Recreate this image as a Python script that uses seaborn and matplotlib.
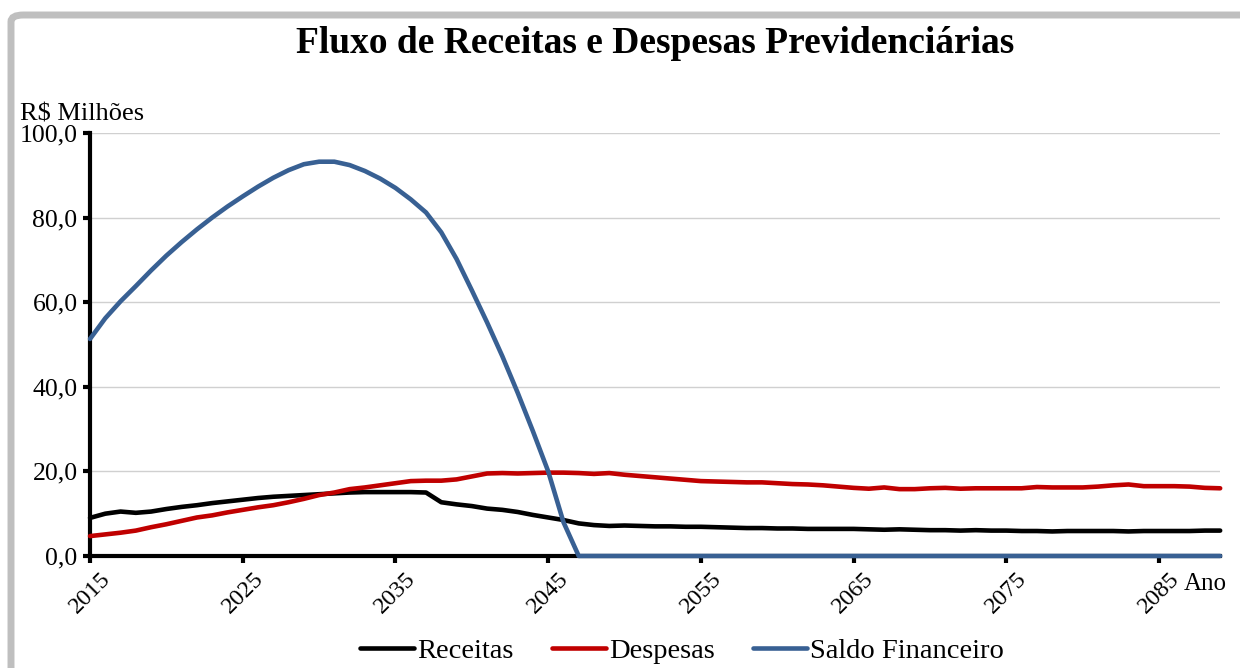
import numpy as np
import pandas as pd
import seaborn as sns
import matplotlib.pyplot as plt
from matplotlib.patches import FancyBboxPatch
from matplotlib.transforms import ScaledTranslation

# Anos 2015..2089
anos = list(range(2015, 2090))

receitas = [
    9.0, 10.0, 10.5, 10.2, 10.5, 11.1, 11.6, 12.0, 12.5, 12.9,
    13.3, 13.7, 14.0, 14.2, 14.4, 14.6, 14.8, 15.0, 15.1, 15.1,
    15.1, 15.1, 15.0, 12.7, 12.2, 11.8, 11.2, 10.9, 10.4, 9.7,
    9.1, 8.5, 7.7, 7.3, 7.1, 7.2, 7.1, 7.0, 7.0, 6.9,
    6.9, 6.8, 6.7, 6.6, 6.6, 6.5, 6.5, 6.4, 6.4, 6.4,
    6.4, 6.3, 6.2, 6.3, 6.2, 6.1, 6.1, 6.0, 6.1, 6.0,
    6.0, 5.9, 5.9, 5.8, 5.9, 5.9, 5.9, 5.9, 5.8, 5.9,
    5.9, 5.9, 5.9, 6.0, 6.0,
]

despesas = [
    4.7, 5.1, 5.5, 6.0, 6.8, 7.5, 8.3, 9.1, 9.6, 10.3,
    10.9, 11.5, 12.0, 12.7, 13.5, 14.4, 15.0, 15.8, 16.2, 16.7,
    17.2, 17.7, 17.8, 17.8, 18.1, 18.8, 19.5, 19.6, 19.5, 19.6,
    19.7, 19.7, 19.6, 19.4, 19.6, 19.2, 18.9, 18.6, 18.3, 18.0,
    17.7, 17.6, 17.5, 17.4, 17.4, 17.2, 17.0, 16.9, 16.7, 16.4,
    16.1, 15.9, 16.2, 15.8, 15.8, 16.0, 16.1, 15.9, 16.0, 16.0,
    16.0, 16.0, 16.3, 16.2, 16.2, 16.2, 16.4, 16.7, 16.9, 16.5,
    16.5, 16.5, 16.4, 16.1, 16.0,
]

saldo = [
    51.3, 56.2, 60.2, 63.8, 67.5, 71.0, 74.2, 77.2, 80.0, 82.6,
    85.0, 87.3, 89.4, 91.2, 92.6, 93.2, 93.2, 92.4, 91.0, 89.2,
    87.0, 84.3, 81.2, 76.5, 70.2, 62.8, 55.2, 47.2, 38.6, 29.5,
    20.0, 8.0,
] + [0.0] * 43

series = ['Receitas', 'Despesas', 'Saldo Financeiro']
cores = ['#000000', '#c00000', '#386093']

df = pd.DataFrame({'ano': anos, 'Receitas': receitas,
                   'Despesas': despesas, 'Saldo Financeiro': saldo})
long_df = df.melt(id_vars='ano', var_name='serie', value_name='valor')

sns.set_style('white')
plt.rcParams['font.family'] = ['Liberation Serif', 'DejaVu Serif']
plt.rcParams['text.color'] = 'black'
plt.rcParams['xtick.color'] = 'black'
plt.rcParams['ytick.color'] = 'black'

fig = plt.figure(figsize=(12.4, 6.68), dpi=100)
ax = fig.add_axes([0.0726, 0.1677, 0.9114, 0.6333])

sns.lineplot(data=long_df, x='ano', y='valor', hue='serie', hue_order=series,
             palette=cores, linewidth=3.3, ax=ax, legend=True, zorder=4)
for ln in ax.get_lines():
    ln.set_clip_on(False)
    ln.set_solid_capstyle('round')

ax.set_xlim(2015, 2089)
ax.set_ylim(0, 100)
ax.set_yticks(np.arange(0, 101, 20))
ax.set_yticklabels([f'{v:.1f}'.replace('.', ',') for v in np.arange(0, 101, 20)])
ax.set_xticks(range(2015, 2090, 10))
ax.set_xticklabels([str(a) for a in range(2015, 2090, 10)], rotation=45)
offset = ScaledTranslation(-9 / 100, -3 / 100, fig.dpi_scale_trans)
for lbl in ax.get_xticklabels():
    lbl.set_transform(lbl.get_transform() + offset)
    lbl.set_fontsize(17.5)

ax.grid(axis='y', color='#d0d0d0', linewidth=1.0)
ax.set_axisbelow(True)
for side in ['top', 'right']:
    ax.spines[side].set_visible(False)
for side in ['left', 'bottom']:
    ax.spines[side].set_color('black')
    ax.spines[side].set_linewidth(3)
ax.tick_params(axis='both', direction='out', length=5, width=3, color='black',
               pad=4, bottom=True, left=True)
ax.tick_params(axis='y', labelsize=18.5)
ax.set_xlabel('')
ax.set_ylabel('')

handles, labels = ax.get_legend_handles_labels()
ax.legend_.remove()
fig.legend(handles, labels, loc='center', bbox_to_anchor=(0.55, 0.026), ncol=3,
           frameon=False, fontsize=20.5, handlelength=1.9, handletextpad=0.1,
           columnspacing=1.35)

fig.text(0.528, 0.935, 'Fluxo de Receitas e Despesas Previdenciárias',
         ha='center', va='center', fontsize=27, fontweight='bold')
fig.text(20 / 1240, 1 - 121 / 668, 'R$ Milhões', ha='left', va='baseline', fontsize=19)
fig.text(1184 / 1240, 1 - 590 / 668, 'Ano', ha='left', va='baseline', fontsize=18)

# moldura cinza da área do gráfico
frame = FancyBboxPatch((11 / 1240, -0.05), 1.1, 1 - 15 / 668 + 0.05,
                       boxstyle='round,pad=0,rounding_size=0.01',
                       transform=fig.transFigure, facecolor='none',
                       edgecolor='#bfbfbf', linewidth=5, clip_on=False)
fig.patches.append(frame)

fig.savefig('out.png', dpi=100)
